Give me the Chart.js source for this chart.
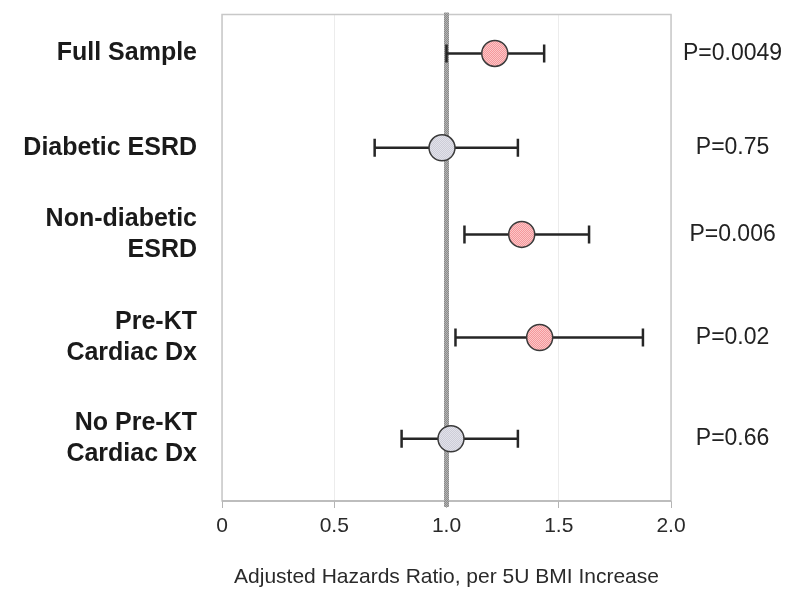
<!DOCTYPE html>
<html>
<head>
<meta charset="utf-8">
<script src="https://cdn.jsdelivr.net/npm/chart.js@4.4.1/dist/chart.umd.min.js"></script>
<style>
  html, body { margin: 0; padding: 0; background: #fff; }
  #wrap { width: 786px; height: 593px; }
</style>
</head>
<body>
<div id="wrap"><canvas id="forest" width="786" height="593"></canvas></div>
<script>
// subgroup labels (multi-line) and values
const groups = [["Full Sample"], ["Diabetic ESRD"], ["Non-diabetic", "ESRD"], ["Pre-KT", "Cardiac Dx"], ["No Pre-KT", "Cardiac Dx"]];
const rowY = [4.6, 3.63, 2.74, 1.68, 0.64];
const hr = [1.215, 0.98, 1.335, 1.415, 1.02];
const ciLow = [1.0, 0.68, 1.08, 1.04, 0.80];
const ciHigh = [1.435, 1.318, 1.635, 1.875, 1.318];
const pValues = ["P=0.0049", "P=0.75", "P=0.006", "P=0.02", "P=0.66"];
const significant = [true, false, true, true, false];
const xTickLabels = ["0", "0.5", "1.0", "1.5", "2.0"];
const refValue = 1.0;

const FONT = "'Liberation Sans', Arial, sans-serif";

// small dotted fill like the printed figure
function makePattern(c1, c2) {
  const p = document.createElement("canvas");
  p.width = 2; p.height = 2;
  const g = p.getContext("2d");
  g.fillStyle = c1; g.fillRect(0, 0, 2, 2);
  g.fillStyle = c2; g.fillRect(0, 0, 1, 1); g.fillRect(1, 1, 1, 1);
  return g.createPattern(p, "repeat");
}

const ctx = document.getElementById("forest").getContext("2d");
const redFill = makePattern("#f4989b", "#fcc6c8");
const greyFill = makePattern("#cdcdd8", "#e2e2ea");
const lineFill = makePattern("#8a8a8a", "#b4b4b4");

const forestPlugin = {
  id: "forest",
  beforeDatasetsDraw(chart) {
    const { ctx, chartArea: a, scales: { x, y } } = chart;
    ctx.save();
    // plot box
    ctx.strokeStyle = "#c8c8c8";
    ctx.lineWidth = 1.5;
    ctx.strokeRect(a.left, a.top, a.right - a.left, a.bottom - a.top);
    ctx.strokeStyle = "#b4b4b4";
    ctx.beginPath(); ctx.moveTo(a.left, a.bottom); ctx.lineTo(a.right, a.bottom); ctx.stroke();
    // reference line at HR = 1
    const rx = x.getPixelForValue(refValue);
    ctx.fillStyle = lineFill;
    ctx.fillRect(rx - 2.5, a.top - 2, 5, a.bottom - a.top + 8);
    // confidence intervals
    ctx.strokeStyle = "#262626";
    ctx.lineWidth = 2.5;
    for (let i = 0; i < hr.length; i++) {
      const py = y.getPixelForValue(rowY[i]);
      const x1 = x.getPixelForValue(ciLow[i]);
      const x2 = x.getPixelForValue(ciHigh[i]);
      ctx.beginPath();
      ctx.moveTo(x1, py); ctx.lineTo(x2, py);
      ctx.moveTo(x1, py - 9); ctx.lineTo(x1, py + 9);
      ctx.moveTo(x2, py - 9); ctx.lineTo(x2, py + 9);
      ctx.stroke();
    }
    ctx.restore();
  }
};

// keep the side axes from pushing the plot area down
function fixSide(width) {
  return s => {
    s.width = width;
    s.paddingTop = 0;
    s.paddingBottom = 0;
  };
}

new Chart(ctx, {
  type: "scatter",
  data: {
    datasets: [{
      data: hr.map((v, i) => ({ x: v, y: rowY[i] })),
      pointRadius: 13,
      pointHoverRadius: 13,
      pointBackgroundColor: significant.map(s => s ? redFill : greyFill),
      pointBorderColor: "#3a3a3a",
      pointBorderWidth: 1.5
    }]
  },
  options: {
    responsive: false,
    animation: false,
    layout: { padding: { top: 11, left: 0, right: 0, bottom: 0 } },
    plugins: { legend: { display: false }, tooltip: { enabled: false } },
    scales: {
      x: {
        type: "linear", min: 0, max: 2,
        afterFit: s => { s.height = 92; },
        ticks: {
          stepSize: 0.5, padding: 6, color: "#2a2a2a",
          font: { family: FONT, size: 21 },
          callback: (v) => xTickLabels[Math.round(v / 0.5)]
        },
        grid: { color: "#ececec", tickColor: "#b4b4b4", tickLength: 7, lineWidth: 1 },
        border: { display: false },
        title: {
          display: true, text: "Adjusted Hazards Ratio, per 5U BMI Increase", color: "#2a2a2a",
          font: { family: FONT, size: 21 },
          padding: { top: 8, bottom: 3 }
        }
      },
      y: {
        type: "linear", position: "left", min: 0, max: 5,
        afterFit: fixSide(222),
        afterBuildTicks: s => { s.ticks = rowY.map(v => ({ value: v })); },
        ticks: {
          padding: 25, color: "#1a1a1a",
          font: { family: FONT, size: 25, weight: "bold", lineHeight: 1.22 },
          callback: (v) => groups[rowY.indexOf(v)]
        },
        grid: { display: false, drawTicks: false },
        border: { display: false }
      },
      y2: {
        type: "linear", position: "right", min: 0, max: 5,
        afterFit: fixSide(115),
        afterBuildTicks: s => { s.ticks = rowY.map(v => ({ value: v })); },
        ticks: {
          padding: 12, color: "#222", crossAlign: "center",
          font: { family: FONT, size: 23 },
          callback: (v) => pValues[rowY.indexOf(v)]
        },
        grid: { display: false, drawTicks: false },
        border: { display: false }
      }
    }
  },
  plugins: [forestPlugin]
});
</script>
</body>
</html>
